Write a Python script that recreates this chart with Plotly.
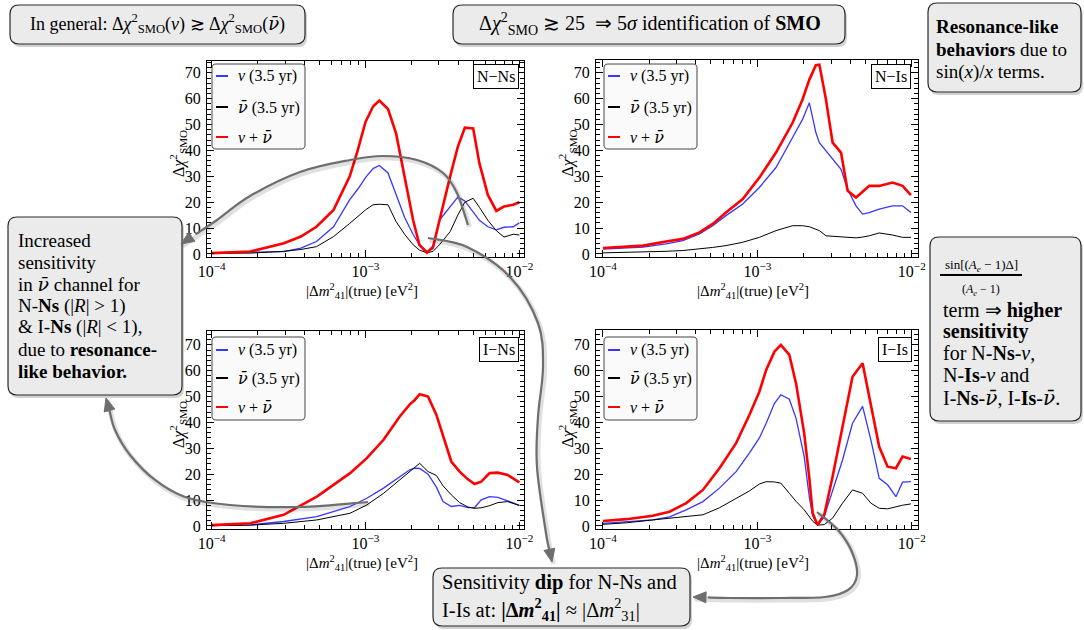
import plotly.graph_objects as go

W, H = 1084, 630
FONT = "Liberation Serif"

# ---------------- data ----------------
NNs_x = [1.0e-4, 1.78e-4, 2.95e-4, 3.8e-4, 4.8e-4, 6.2e-4, 7.9e-4, 8.9e-4, 1.0e-3, 1.12e-3,
         1.23e-3, 1.40e-3, 1.58e-3, 1.80e-3, 2.04e-3, 2.24e-3, 2.51e-3, 2.75e-3, 3.02e-3,
         3.55e-3, 3.98e-3, 4.42e-3, 5.01e-3, 5.5e-3, 6.24e-3, 7.08e-3, 7.94e-3, 9.12e-3, 1.0e-2]
NNs_nu = [0.3, 0.5, 0.9, 2.2, 4.8, 10.5, 21, 25, 29.5, 33, 34.2, 31.3, 23.3, 14, 7.5, 3.5, 0.9,
          2, 13, 18.3, 22, 20.5, 16, 13, 10.5, 9.3, 10.3, 10.5, 12]
NNs_nubar = [0.2, 0.3, 1, 1.7, 2.8, 6.7, 11.8, 14.5, 17, 19, 19.2, 19, 12.5, 7.5, 3.5, 1.5, 0.4,
             1, 3.5, 8.6, 15, 20, 21.5, 18, 13, 9, 6.5, 7.6, 7.3]
NNs_sum = [0.3, 0.9, 4.1, 6.7, 10.5, 17, 30, 40, 51, 57, 59.3, 56, 46.6, 30, 13, 3.5, 0.5, 2.8,
           13, 30, 41.4, 48.8, 48.5, 35, 22.8, 16.6, 18.3, 19, 20]

NIs_x = [1.0e-4, 1.82e-4, 2.56e-4, 3.29e-4, 4.22e-4, 5.14e-4, 6.26e-4, 8.04e-4, 1.03e-3, 1.32e-3,
         1.69e-3, 1.96e-3, 2.17e-3, 2.39e-3, 2.52e-3, 2.78e-3, 3.07e-3, 3.48e-3, 3.84e-3,
         4.35e-3, 4.80e-3, 5.30e-3, 6.15e-3, 7.50e-3, 8.71e-3, 9.86e-3]
NIs_nu = [1.9, 2.6, 3.9, 5.1, 7.7, 10.9, 14.8, 19.3, 25.7, 33.4, 45, 52, 58.4, 47, 43, 39.8, 36.6,
          32.7, 25, 18.6, 15.4, 16, 17.3, 18.6, 18.6, 16]
NIs_nubar = [0.4, 0.6, 1.0, 1.3, 1.9, 2.5, 3.2, 4.5, 6.4, 9, 10.9, 10.9, 10.5, 9.6, 9, 7, 6.8,
             6.7, 6.4, 6.2, 6.5, 7.0, 8.1, 7.3, 6.4, 6.4]
NIs_sum = [2.3, 3.2, 4.8, 5.8, 8.3, 11.6, 16, 21.2, 29.5, 39.2, 50.7, 59.7, 67.4, 73, 73.2, 59.7,
           43, 39.2, 24.4, 21.8, 24, 26.3, 26.3, 27.6, 26.3, 22.7]

INs_x = [1.0e-4, 1.79e-4, 2.94e-4, 4.83e-4, 7.94e-4, 1.02e-3, 1.31e-3, 1.67e-3, 1.94e-3, 2.09e-3,
         2.25e-3, 2.55e-3, 2.89e-3, 3.19e-3, 3.61e-3, 4.09e-3, 4.63e-3, 5.12e-3, 5.65e-3,
         6.40e-3, 7.24e-3, 8.39e-3, 1.0e-2]
INs_nu = [0.1, 0.4, 1.7, 3.6, 7.5, 10.7, 14.6, 19.1, 21.7, 22.3, 22.2, 20, 15, 9.4, 7.5, 7.9, 7.1,
          7.1, 10.1, 11.3, 11, 9.7, 7.9]
INs_nubar = [0.1, 0.3, 1, 2.3, 4.9, 8.1, 12.6, 17.8, 21, 22.8, 24.2, 21, 19.5, 15.5, 12, 9, 7.3,
             6.8, 7, 7.8, 9, 9.4, 7.9]
INs_sum = [0.3, 1, 4.3, 11.3, 20.4, 26.2, 33.3, 42.3, 47, 48.7, 50.9, 50, 42.9, 34.5, 24.9, 21,
           18, 16.2, 17.1, 20.4, 20.6, 19.7, 16.8]

IIs_x = [1.0e-4, 1.42e-4, 2.10e-4, 2.70e-4, 3.46e-4, 4.44e-4, 5.68e-4, 7.28e-4, 8.87e-4, 1.03e-3,
         1.14e-3, 1.29e-3, 1.42e-3, 1.61e-3, 1.78e-3, 2.01e-3, 2.17e-3, 2.28e-3, 2.45e-3,
         2.71e-3, 3.07e-3, 3.56e-3, 4.13e-3, 4.80e-3, 5.43e-3, 6.15e-3, 6.97e-3, 7.89e-3,
         8.71e-3, 9.86e-3]
IIs_nu = [1, 1.5, 2.3, 3.5, 6.2, 9.4, 14.6, 21, 28.1, 34, 39.7, 47.4, 50.7, 49, 41.6, 26.8, 11, 4,
          0.3, 3.6, 14, 25.5, 39.7, 46.2, 33.3, 18.4, 15.9, 11.3, 16.9, 17.1]
IIs_nubar = [0.6, 1.2, 2.3, 3, 3.8, 4.3, 7, 10.5, 13.5, 16.2, 17.1, 17, 16.5, 12.6, 9.5, 6.2, 3.5,
             1.8, 0.3, 0.5, 3, 8.8, 13.9, 12.6, 8.8, 6.8, 6.6, 7.5, 8, 8.5]
IIs_sum = [1.9, 2.6, 3.9, 5.5, 8.8, 13.9, 22.3, 32, 42.9, 51.9, 60.3, 67.4, 70, 66.1, 55.1, 35.8,
           18.4, 4.9, 0.4, 4.3, 19.1, 38.4, 57.7, 62.9, 47.4, 30.6, 22.9, 22.3, 26.8, 25.9]

NUBAR = '<span style="font-family:DejaVu Serif">ν̄</span>'
SP = "\u00a0"
panel_labels = ["N−Ns", "N−Is", "I−Ns", "I−Is"]
legend_labels = ["<i>ν</i> (3.5 yr)", "<i>" + NUBAR + "</i> (3.5 yr)", "<i>ν</i> + <i>" + NUBAR + "</i>"]
x_tickvals = [1e-4, 1e-3, 1e-2]
x_ticktext = ["10<sup>−4</sup>", "10<sup>−3</sup>", "10<sup>−2</sup>"]
y_tickvals = [0, 10, 20, 30, 40, 50, 60, 70]

series_colors = ["rgb(55,55,255)", "black", "rgb(255,0,0)"]
series_widths = [1.3, 1.0, 2.6]

# ---------------- helpers (pixel -> paper) ----------------
def X(p):
    return p / W

def Y(p):
    return 1 - p / H

def pt(x, y):
    return f"{X(x):.5f},{Y(y):.5f}"

def rrect_path(x0, y0, x1, y1, r):
    return (f"M {pt(x0 + r, y0)} L {pt(x1 - r, y0)} Q {pt(x1, y0)} {pt(x1, y0 + r)} "
            f"L {pt(x1, y1 - r)} Q {pt(x1, y1)} {pt(x1 - r, y1)} L {pt(x0 + r, y1)} "
            f"Q {pt(x0, y1)} {pt(x0, y1 - r)} L {pt(x0, y0 + r)} Q {pt(x0, y0)} {pt(x0 + r, y0)} Z")

def smooth_path(pts):
    s = f"M {pt(*pts[0])}"
    n = len(pts)
    for i in range(n - 1):
        p0 = pts[i - 1] if i > 0 else pts[i]
        p1 = pts[i]
        p2 = pts[i + 1]
        p3 = pts[i + 2] if i + 2 < n else pts[i + 1]
        c1 = (p1[0] + (p2[0] - p0[0]) / 6, p1[1] + (p2[1] - p0[1]) / 6)
        c2 = (p2[0] - (p3[0] - p1[0]) / 6, p2[1] - (p3[1] - p1[1]) / 6)
        s += f" C {pt(*c1)} {pt(*c2)} {pt(*p2)}"
    return s

def head_path(tip, prev, length=13, half=5.5):
    dx, dy = tip[0] - prev[0], tip[1] - prev[1]
    d = (dx * dx + dy * dy) ** 0.5
    ux, uy = dx / d, dy / d
    bx, by = tip[0] - ux * length, tip[1] - uy * length
    a = (bx - uy * half, by + ux * half)
    b = (bx + uy * half, by - ux * half)
    return f"M {pt(*tip)} L {pt(*a)} L {pt(*b)} Z"

# ---------------- figure ----------------
fig = go.Figure()

panels = [
    (NNs_x, NNs_nu, NNs_nubar, NNs_sum),
    (NIs_x, NIs_nu, NIs_nubar, NIs_sum),
    (INs_x, INs_nu, INs_nubar, INs_sum),
    (IIs_x, IIs_nu, IIs_nubar, IIs_sum),
]
# frame of each panel in pixels: x0, x1, y0(top), y1(bottom)
frames = [(207, 524, 61, 257), (596, 918, 60, 257), (207, 524, 331, 529), (596, 918, 330, 529)]
xranges = [[-4.03, -1.97], [-4.045, -1.96], [-4.03, -1.97], [-4.045, -1.96]]
minor_x = [m * 10 ** e for e in (-4, -3) for m in range(2, 10)]

for k, (xs, nu, nub, sm) in enumerate(panels):
    ax = "" if k == 0 else str(k + 1)
    for ys, c, w, nm in zip((nu, nub, sm), series_colors, series_widths, legend_labels):
        fig.add_trace(go.Scatter(x=xs, y=ys, mode="lines", name=nm, showlegend=False,
                                 line=dict(color=c, width=w),
                                 xaxis="x" + ax, yaxis="y" + ax))
    x0, x1, y0, y1 = frames[k]
    fig.layout["xaxis" + ax] = dict(
        type="log", domain=[X(x0), X(x1)], range=xranges[k], anchor="y" + ax, automargin=False,
        showline=True, linecolor="black", linewidth=1, mirror="allticks",
        ticks="inside", ticklen=7, tickcolor="black", tickwidth=1,
        tickvals=x_tickvals, ticktext=x_ticktext, showgrid=False, zeroline=False,
        tickfont=dict(family=FONT, size=16, color="black"),
        minor=dict(tickvals=minor_x, ticks="inside", ticklen=4, tickcolor="black", showgrid=False),
    )
    fig.layout["yaxis" + ax] = dict(
        domain=[Y(y1), Y(y0)], range=[-1.2, -1.2 + (y1 - y0) / 2.586], anchor="x" + ax,
        automargin=False,
        showline=True, linecolor="black", linewidth=1, mirror="allticks",
        ticks="inside", ticklen=7, tickcolor="black", tickwidth=1,
        tickvals=y_tickvals, showgrid=False, zeroline=False, ticklabelstandoff=2,
        tickfont=dict(family=FONT, size=16, color="black"),
        minor=dict(dtick=2, ticks="inside", ticklen=4, tickcolor="black", showgrid=False),
    )

shapes = []
annotations = []

def text(x, y, s, size=17, xanchor="left", yanchor="middle", angle=0, color="black"):
    annotations.append(dict(x=X(x), y=Y(y), xref="paper", yref="paper", text=s,
                            showarrow=False, xanchor=xanchor, yanchor=yanchor, textangle=angle,
                            font=dict(family=FONT, size=size, color=color)))

# legends, panel labels, axis titles
leg_boxes = [(212, 305, 64, 149), (604, 697, 64, 149), (212, 305, 337, 420), (604, 697, 337, 420)]
leg_rows = [(76, 107, 137), (76, 107, 137), (350, 378, 407), (350, 378, 407)]
lab_boxes = [(519, 64), (911, 64), (519, 337), (912, 337)]
for k in range(4):
    bx0, bx1, by0, by1 = leg_boxes[k]
    shapes.append(dict(type="path", xref="paper", yref="paper", path=rrect_path(bx0, by0, bx1, by1, 4),
                       fillcolor="rgb(250,250,250)", line=dict(color="rgb(70,70,70)", width=1), layer="above"))
    for r, c, lab in zip(leg_rows[k], series_colors, legend_labels):
        shapes.append(dict(type="line", xref="paper", yref="paper", x0=X(bx0 + 4), x1=X(bx0 + 16),
                           y0=Y(r), y1=Y(r), line=dict(color=c, width=2), layer="above"))
        text(bx0 + 24, r, lab, size=16)
    lx, ly = lab_boxes[k]
    annotations.append(dict(x=X(lx), y=Y(ly), xref="paper", yref="paper", text=panel_labels[k],
                            showarrow=False, xanchor="right", yanchor="top",
                            bordercolor="black", borderwidth=1, borderpad=3, bgcolor="white",
                            font=dict(family=FONT, size=16, color="black")))
    x0, x1, y0, y1 = frames[k]
    ytitle_x = 178 if k in (0, 2) else 567
    text(ytitle_x, (y0 + y1) / 2 - 5, "Δ<i>χ</i><sup>2</sup><sub>SMO</sub>", size=16,
         xanchor="center", angle=-90)
    text((x0 + x1) / 2 - 4, y1 + 34, "|Δ<i>m</i><sup>2</sup><sub>41</sub>|(true) [eV<sup>2</sup>]",
         size=15, xanchor="center")

# ---------------- callout boxes ----------------
def callout(x0, y0, x1, y1):
    shapes.append(dict(type="path", xref="paper", yref="paper",
                       path=rrect_path(x0 + 2, y0 + 3, x1 + 2, y1 + 3, 9),
                       fillcolor="rgba(0,0,0,0.18)", line=dict(width=0), layer="above"))
    shapes.append(dict(type="path", xref="paper", yref="paper", path=rrect_path(x0, y0, x1, y1, 9),
                       fillcolor="rgb(235,235,235)", line=dict(color="rgb(40,40,40)", width=1.2),
                       layer="above"))

callout(10, 5, 305, 44)
text(157, 24, "In general: Δ<i>χ</i><sup>2</sup><sub>SMO</sub>(<i>ν</i>) ≳ Δ<i>χ</i><sup>2</sup><sub>SMO</sub>(<i>" + NUBAR + "</i>)",
     size=18, xanchor="center")
callout(453, 5, 845, 44)
text(650, 24, "Δ<i>χ</i><sup>2</sup><sub>SMO</sub>" + SP + "≳" + SP + "25" + SP * 2 + "⇒" + SP + "5<i>σ</i> identification of <b>SMO</b>",
     size=20, xanchor="center")

callout(928, 3, 1081, 92)
for y, s in zip((27, 50, 72), ("<b>Resonance-like</b>", "<b>behaviors</b> due to",
                               "sin(<i>x</i>)/<i>x</i> terms.")):
    text(934, y, s, size=19)

callout(930, 237, 1081, 421)
text(981, 265, "sin[(<i>A<sub>e</sub></i> − 1)Δ]", size=13, xanchor="center")
shapes.append(dict(type="line", xref="paper", yref="paper", x0=X(940), x1=X(1022), y0=Y(275), y1=Y(275),
                   line=dict(color="black", width=2), layer="above"))
text(981, 290, "(<i>A<sub>e</sub></i> − 1)", size=12, xanchor="center")
for y, s in zip((310, 331, 353, 375, 398),
                ("term" + SP + "⇒" + SP + "<b>higher</b>", "<b>sensitivity</b>", "for N-<b>Ns</b>-<i>ν</i>,",
                 "N-<b>Is</b>-<i>ν</i> and", "I-<b>Ns</b>-<i>" + NUBAR + "</i>, I-<b>Is</b>-<i>" + NUBAR + "</i>.")):
    text(941, y, s, size=20)

callout(8, 217, 182, 395)
for y, s in zip((240, 262, 284, 306, 327, 349, 371),
                ("Increased", "sensitivity", "in <i>" + NUBAR + "</i> channel for",
                 "N-<b>Ns</b> (|<i>R</i>| &gt; 1)", "&amp; I-<b>Ns</b> (|<i>R</i>| &lt; 1),",
                 "due to <b>resonance-</b>", "<b>like behavior.</b>")):
    text(16, y, s, size=19)

callout(433, 568, 690, 626)
text(440, 582, "Sensitivity <b>dip</b> for N-Ns and", size=20.5)
text(440, 609, "I-Is at: <b>|Δ<i>m</i><sup>2</sup><sub>41</sub>|</b> ≈ |Δ<i>m</i><sup>2</sup><sub>31</sub>|", size=20.5)

# ---------------- curved arrows ----------------
arrows = [
    [(468, 225), (457, 193), (443, 173), (417, 160), (383, 156), (350, 160), (300, 172),
     (250, 196), (217, 220), (181, 244)],
    [(368, 502), (300, 507), (230, 505), (185, 497), (155, 480), (130, 455), (115, 430), (106, 398)],
    [(428, 238), (467, 247), (510, 277), (538, 323), (543, 367), (538, 417), (537, 467),
     (546, 533), (552, 562)],
    [(817, 512), (838, 530), (852, 552), (857, 575), (848, 590), (825, 597), (780, 598),
     (730, 598), (693, 597)],
]
for pts in arrows:
    sh = [(x + 1.5, y + 2) for x, y in pts]
    shapes.append(dict(type="path", xref="paper", yref="paper", path=smooth_path(sh),
                       line=dict(color="rgba(0,0,0,0.12)", width=5), layer="above"))
    shapes.append(dict(type="path", xref="paper", yref="paper", path=smooth_path(pts[:-1] + [
        (pts[-1][0] - (pts[-1][0] - pts[-2][0]) * 0.4, pts[-1][1] - (pts[-1][1] - pts[-2][1]) * 0.4)]),
                       line=dict(color="rgb(110,110,110)", width=2.2), layer="above"))
    shapes.append(dict(type="path", xref="paper", yref="paper", path=head_path(pts[-1], pts[-2]),
                       fillcolor="rgb(110,110,110)", line=dict(color="rgb(110,110,110)", width=1),
                       layer="above"))

fig.update_layout(
    width=W, height=H, margin=dict(l=0, r=0, t=0, b=0, autoexpand=False),
    paper_bgcolor="white", plot_bgcolor="white",
    shapes=shapes, annotations=annotations, showlegend=False,
    font=dict(family=FONT, color="black"),
)

fig.write_html("out.html", post_script="document.body.style.margin='0px';",
               config={"displayModeBar": False})
